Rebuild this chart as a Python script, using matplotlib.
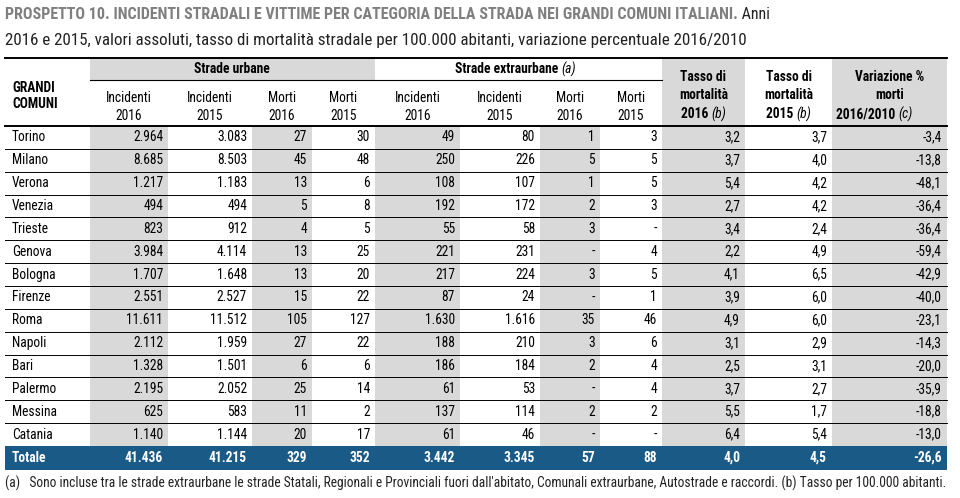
import matplotlib
matplotlib.use("Agg")
import matplotlib.pyplot as plt
from matplotlib.patches import Rectangle
from matplotlib import font_manager

# font stretto tipo Arial Narrow, se presente
installed = {f.name for f in font_manager.fontManager.ttflist}
prefs = ["Arial Narrow", "Liberation Sans Narrow", "Roboto Condensed", "PT Sans Narrow",
         "Archivo Narrow", "Liberation Sans"]
font = next(p for p in prefs if p in installed)
plt.rcParams['font.family'] = [font, 'DejaVu Sans']

# --- DATI ---
comuni = ["Torino", "Milano", "Verona", "Venezia", "Trieste", "Genova", "Bologna",
          "Firenze", "Roma", "Napoli", "Bari", "Palermo", "Messina", "Catania"]
inc_urb_2016 = [2964, 8685, 1217, 494, 823, 3984, 1707, 2551, 11611, 2112, 1328, 2195, 625, 1140]
inc_urb_2015 = [3083, 8503, 1183, 494, 912, 4114, 1648, 2527, 11512, 1959, 1501, 2052, 583, 1144]
morti_urb_2016 = [27, 45, 13, 5, 4, 13, 13, 15, 105, 27, 6, 25, 11, 20]
morti_urb_2015 = [30, 48, 6, 8, 5, 25, 20, 22, 127, 22, 6, 14, 2, 17]
inc_ext_2016 = [49, 250, 108, 192, 55, 221, 217, 87, 1630, 188, 186, 61, 137, 61]
inc_ext_2015 = [80, 226, 107, 172, 58, 231, 224, 24, 1616, 210, 184, 53, 114, 46]
morti_ext_2016 = [1, 5, 1, 2, 3, 0, 3, 0, 35, 3, 2, 0, 2, 0]
morti_ext_2015 = [3, 5, 5, 3, 0, 4, 5, 1, 46, 6, 4, 4, 2, 0]
tasso_2016 = [3.2, 3.7, 5.4, 2.7, 3.4, 2.2, 4.1, 3.9, 4.9, 3.1, 2.5, 3.7, 5.5, 6.4]
tasso_2015 = [3.7, 4.0, 4.2, 4.2, 2.4, 4.9, 6.5, 6.0, 6.0, 2.9, 3.1, 2.7, 1.7, 5.4]
variazione = [-3.4, -13.8, -48.1, -36.4, -36.4, -59.4, -42.9, -40.0, -23.1, -14.3, -20.0, -35.9, -18.8, -13.0]

totale = [41436, 41215, 329, 352, 3442, 3345, 57, 88, 4.0, 4.5, -26.6]

titolo = "PROSPETTO 10. INCIDENTI STRADALI E VITTIME PER CATEGORIA DELLA STRADA NEI GRANDI COMUNI ITALIANI."
titolo2 = " Anni"
sottotitolo = "2016 e 2015, valori assoluti, tasso di mortalità stradale per 100.000 abitanti, variazione percentuale 2016/2010"
nota = ("(a)   Sono incluse tra le strade extraurbane le strade Statali, Regionali e Provinciali fuori dall'abitato, "
        "Comunali extraurbane, Autostrade e raccordi. (b) Tasso per 100.000 abitanti.")

GREY = "#d9d9d9"
BLUE = "#1a5a87"


def fmt_int(v):
    return "-" if v == 0 else f"{v:,}".replace(",", ".")


def fmt_dec(v):
    return f"{v:.1f}".replace(".", ",")


# --- LAYOUT (pixel) ---
fig = plt.figure(figsize=(9.6, 4.98), dpi=100)
ax = fig.add_axes([0, 0, 1, 1])
ax.set_xlim(0, 960)
ax.set_ylim(498, 0)
ax.axis("off")
renderer = fig.canvas.get_renderer()


def fit_size(text, size, target_w, **kw):
    # dimensione del font per avere la stessa larghezza del riferimento
    t = ax.text(0, 0, text, fontsize=size, **kw)
    w = t.get_window_extent(renderer).width
    t.remove()
    return size * target_w / w


FT = fit_size(titolo, 12, 730, fontweight="bold")
FT2 = min(fit_size(sottotitolo, 12, 740), FT * 1.1)
FS = min(fit_size(nota, 10, 937), 11.5)

left, right = 5, 947
cols = [(90, 168), (168, 252), (252, 312), (312, 375), (375, 460), (460, 540),
        (540, 600), (600, 662), (662, 745), (745, 832), (832, 947)]
shaded = [True, False, True, False, True, False, True, False, True, False, True]
y_top, y_grp, y_head = 58, 80, 126
n = len(comuni)
row_h = (446 - y_head) / n
y_tot = y_head + n * row_h

# colonne grigie
for (x0, x1), s in zip(cols, shaded):
    if s:
        ax.add_patch(Rectangle((x0, y_head), x1 - x0, y_tot - y_head, color=GREY, lw=0))
ax.add_patch(Rectangle((90, y_top), 375 - 90, y_grp - y_top, color=GREY, lw=0))
for i in (8, 10):
    x0, x1 = cols[i]
    ax.add_patch(Rectangle((x0, y_top), x1 - x0, y_head - y_top, color=GREY, lw=0))
ax.add_patch(Rectangle((left, y_tot), right - left, 24, color=BLUE, lw=0))

# linee
ax.plot([left, right], [y_top, y_top], color="black", lw=1.4)
ax.plot([90, 662], [y_grp, y_grp], color="black", lw=0.8)
ax.plot([left, right], [y_head, y_head], color="black", lw=1.4)
for r in range(1, n):
    y = y_head + r * row_h
    ax.plot([left, right], [y, y], color="black", lw=0.7)

# titolo
t1 = ax.text(5, 14, titolo, fontsize=FT, fontweight="bold", color="#7f7f7f", va="center")
ax.annotate(titolo2, xy=(1, 0.5), xycoords=t1, fontsize=FT, color="#222222", va="center")
ax.text(5, 40, sottotitolo, fontsize=FT2, color="#222222", va="center")

# intestazioni
ax.text(12, 88, "GRANDI", fontsize=FS, fontweight="bold", va="center")
ax.text(12, 104, "COMUNI", fontsize=FS, fontweight="bold", va="center")
ax.text(232, 69, "Strade urbane", fontsize=FS, fontweight="bold", ha="center", va="center")
g = ax.text(508, 69, "Strade extraurbane ", fontsize=FS, fontweight="bold", ha="center", va="center")
ax.annotate("(a)", xy=(1, 0.5), xycoords=g, fontsize=FS, style="italic", va="center")

sub = ["Incidenti", "Incidenti", "Morti", "Morti"] * 2
anni = ["2016", "2015"] * 4
for (x0, x1), s, a in zip(cols[:8], sub, anni):
    xc = (x0 + x1) / 2
    ax.text(xc, 98, s, fontsize=FS, ha="center", va="center")
    ax.text(xc, 116, a, fontsize=FS, ha="center", va="center")

for i, top, anno in ((8, "Tasso di", "2016"), (9, "Tasso di", "2015")):
    xc = sum(cols[i]) / 2
    ax.text(xc, 77, top, fontsize=FS, fontweight="bold", ha="center", va="center")
    ax.text(xc, 95, "mortalità", fontsize=FS, fontweight="bold", ha="center", va="center")
    b = ax.text(xc + 8, 114, anno + " ", fontsize=FS, fontweight="bold", ha="right", va="center")
    ax.annotate("(b)", xy=(1, 0.5), xycoords=b, fontsize=FS, style="italic", va="center")
xc = sum(cols[10]) / 2
ax.text(xc, 77, "Variazione %", fontsize=FS, fontweight="bold", ha="center", va="center")
ax.text(xc, 95, "morti", fontsize=FS, fontweight="bold", ha="center", va="center")
c = ax.text(xc + 9, 114, "2016/2010 ", fontsize=FS, fontweight="bold", ha="right", va="center")
ax.annotate("(c)", xy=(1, 0.5), xycoords=c, fontsize=FS, style="italic", va="center")

# righe
serie = [inc_urb_2016, inc_urb_2015, morti_urb_2016, morti_urb_2015,
         inc_ext_2016, inc_ext_2015, morti_ext_2016, morti_ext_2015,
         tasso_2016, tasso_2015, variazione]
for r, nome in enumerate(comuni):
    yc = y_head + (r + 0.5) * row_h
    ax.text(12, yc, nome, fontsize=FS, va="center")
    for j, (col, vals) in enumerate(zip(cols, serie)):
        txt = fmt_dec(vals[r]) if j >= 8 else fmt_int(vals[r])
        ax.text(col[1] - 5, yc, txt, fontsize=FS, ha="right", va="center")

yc = y_tot + 12
ax.text(12, yc, "Totale", fontsize=FS, fontweight="bold", color="white", va="center")
for j, (col, v) in enumerate(zip(cols, totale)):
    txt = fmt_dec(v) if j >= 8 else fmt_int(v)
    ax.text(col[1] - 5, yc, txt, fontsize=FS, fontweight="bold", color="white", ha="right", va="center")

ax.text(5, 483, nota, fontsize=FS, va="center", color="#222222")

fig.savefig("out.png", dpi=100)
